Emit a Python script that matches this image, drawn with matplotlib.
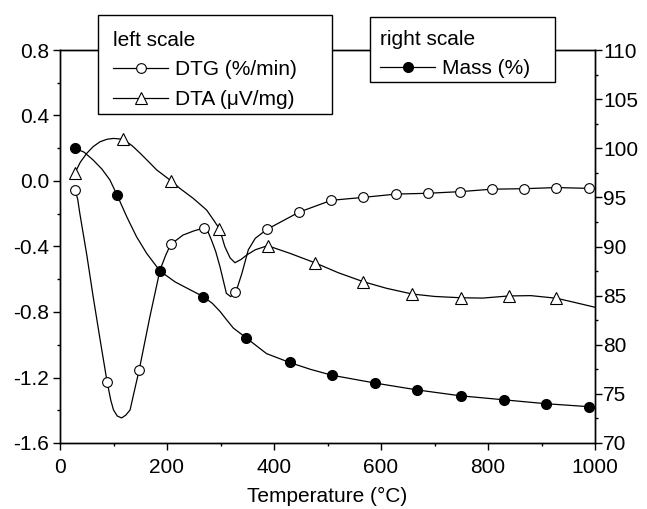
import matplotlib
matplotlib.use("Agg")
import matplotlib.pyplot as plt
from matplotlib.lines import Line2D
from matplotlib.patches import Rectangle
from matplotlib.ticker import MultipleLocator

plt.rcParams["font.family"] = ["Liberation Sans", "DejaVu Sans"]
plt.rcParams["axes.unicode_minus"] = False

# DTG (%/min), left scale -- marker points
dtg_t = [28, 88, 148, 207, 269, 328, 387, 447, 507, 567, 628, 687, 748, 807, 868, 928, 988]
dtg_v = [-0.055, -1.226, -1.154, -0.387, -0.287, -0.676, -0.295, -0.19, -0.118, -0.10,
         -0.08, -0.075, -0.065, -0.05, -0.047, -0.04, -0.045]
# DTG curve trace
dtg_line_t = [28, 33, 37, 50, 62, 75, 88, 95, 100, 107, 115, 123, 131, 138, 148, 168, 187,
              198, 207, 230, 250, 269, 276, 283, 291, 299, 311, 319, 329, 340, 352, 365,
              387, 447, 507, 567, 628, 687, 748, 807, 868, 928, 988]
dtg_line_v = [-0.055, -0.11, -0.197, -0.45, -0.707, -0.97, -1.226, -1.34, -1.398, -1.435,
              -1.447, -1.43, -1.398, -1.296, -1.154, -0.829, -0.543, -0.45, -0.387, -0.33,
              -0.305, -0.287, -0.305, -0.36, -0.43, -0.523, -0.686, -0.706, -0.676, -0.564,
              -0.42, -0.35, -0.295, -0.19, -0.118, -0.10, -0.08, -0.075, -0.065, -0.05,
              -0.047, -0.04, -0.045]

# DTA (uV/mg), left scale -- marker points
dta_t = [28, 118, 208, 298, 388, 477, 567, 658, 749, 839, 928]
dta_v = [0.05, 0.255, 0.0, -0.292, -0.395, -0.50, -0.615, -0.69, -0.713, -0.702, -0.716]
# DTA curve trace
dta_line_t = [28, 38, 50, 62, 75, 88, 100, 118, 135, 150, 165, 181, 208, 224, 249, 274,
              287, 298, 303, 308, 318, 327, 338, 349, 365, 388, 430, 477, 520, 567, 610,
              658, 700, 749, 790, 839, 880, 928, 960, 1000]
dta_line_v = [0.05, 0.115, 0.169, 0.21, 0.24, 0.255, 0.26, 0.255, 0.215, 0.169, 0.12,
              0.067, 0.0, -0.045, -0.106, -0.177, -0.238, -0.292, -0.345, -0.40, -0.47,
              -0.499, -0.48, -0.452, -0.42, -0.395, -0.442, -0.50, -0.56, -0.615, -0.655,
              -0.69, -0.705, -0.713, -0.715, -0.702, -0.70, -0.716, -0.74, -0.771]

# Mass (%), right scale -- marker points
mass_t = [28, 107, 187, 268, 348, 429, 508, 589, 668, 749, 829, 908, 988]
mass_v = [100.0, 95.2, 87.5, 84.9, 80.7, 78.2, 76.9, 76.1, 75.4, 74.8, 74.4, 74.0, 73.7]
# Mass curve trace
mass_line_t = [28, 45, 62, 78, 93, 107, 125, 143, 162, 187, 215, 243, 268, 285, 299,
               312, 324, 348, 386, 429, 468, 508, 589, 668, 749, 829, 908, 988]
mass_line_v = [100.0, 99.6, 98.8, 97.9, 96.8, 95.2, 93.0, 91.0, 89.3, 87.5, 86.4, 85.6,
               84.9, 84.2, 83.4, 82.5, 81.7, 80.7, 79.1, 78.2, 77.5, 76.9, 76.1, 75.4,
               74.8, 74.4, 74.0, 73.7]

W, H = 647, 509
FS = 15
fig = plt.figure(figsize=(W / 100, H / 100), dpi=100)
ax = fig.add_axes([60 / W, 1 - 443 / H, 535 / W, 393 / H])
ax2 = ax.twinx()

lw = 0.9
ms = 7
ax.plot(dtg_line_t, dtg_line_v, color="black", lw=lw)
ax.plot(dtg_t, dtg_v, "o", color="black", mfc="white", mec="black", ms=ms, mew=0.8)
ax.plot(dta_line_t, dta_line_v, color="black", lw=lw)
ax.plot(dta_t, dta_v, "^", color="black", mfc="white", mec="black", ms=ms + 1, mew=0.8)
ax2.plot(mass_line_t, mass_line_v, color="black", lw=lw)
ax2.plot(mass_t, mass_v, "o", color="black", mfc="black", mec="black", ms=ms)

ax.set_xlim(0, 1000)
ax.set_ylim(-1.6, 0.8)
ax2.set_ylim(70, 110)
ax.xaxis.set_major_locator(MultipleLocator(200))
ax.xaxis.set_minor_locator(MultipleLocator(100))
ax.yaxis.set_major_locator(MultipleLocator(0.4))
ax.yaxis.set_minor_locator(MultipleLocator(0.2))
ax2.yaxis.set_major_locator(MultipleLocator(5))
ax2.yaxis.set_minor_locator(MultipleLocator(2.5))
ax.yaxis.set_major_formatter(plt.FuncFormatter(lambda v, p: f"{v:.1f}"))

for a in (ax, ax2):
    a.tick_params(which="major", direction="out", length=5, width=1, labelsize=FS)
    a.tick_params(which="minor", direction="out", length=2.5, width=1)
    for s in a.spines.values():
        s.set_linewidth(1)
ax.tick_params(axis="x", which="major", pad=6)
ax.tick_params(axis="y", which="major", pad=3)
ax2.tick_params(axis="y", which="major", pad=1)

ax.set_xlabel("Temperature (\u00b0C)", fontsize=FS, labelpad=7)

# legend frames (drawn over the top spine)
for x0, y0, x1, y1 in [(98, 15, 332, 114), (370, 17, 555, 82)]:
    fig.patches.append(Rectangle((x0 / W, 1 - y1 / H), (x1 - x0) / W, (y1 - y0) / H,
                                 transform=fig.transFigure, facecolor="white",
                                 edgecolor="black", lw=1, zorder=3))

h_dtg = Line2D([], [], color="black", lw=lw, marker="o", mfc="white", mec="black", ms=ms, mew=0.8)
h_dta = Line2D([], [], color="black", lw=lw, marker="^", mfc="white", mec="black", ms=ms + 1, mew=0.8)
h_mass = Line2D([], [], color="black", lw=lw, marker="o", mfc="black", mec="black", ms=ms)

common = dict(loc="upper left", bbox_transform=fig.transFigure, fontsize=FS,
              title_fontsize=FS, frameon=False, borderaxespad=0, borderpad=0,
              handlelength=2.65, handletextpad=0.35, labelspacing=0.5, alignment="left")
fig.legend([h_dtg, h_dta], ["DTG (%/min)", "DTA (\u03bcV/mg)"], title="left scale",
           bbox_to_anchor=(113 / W, 1 - 31 / H), **common)
fig.legend([h_mass], ["Mass (%)"], title="right scale",
           bbox_to_anchor=(380 / W, 1 - 30 / H), **common)

fig.savefig("out.png", dpi=100)
